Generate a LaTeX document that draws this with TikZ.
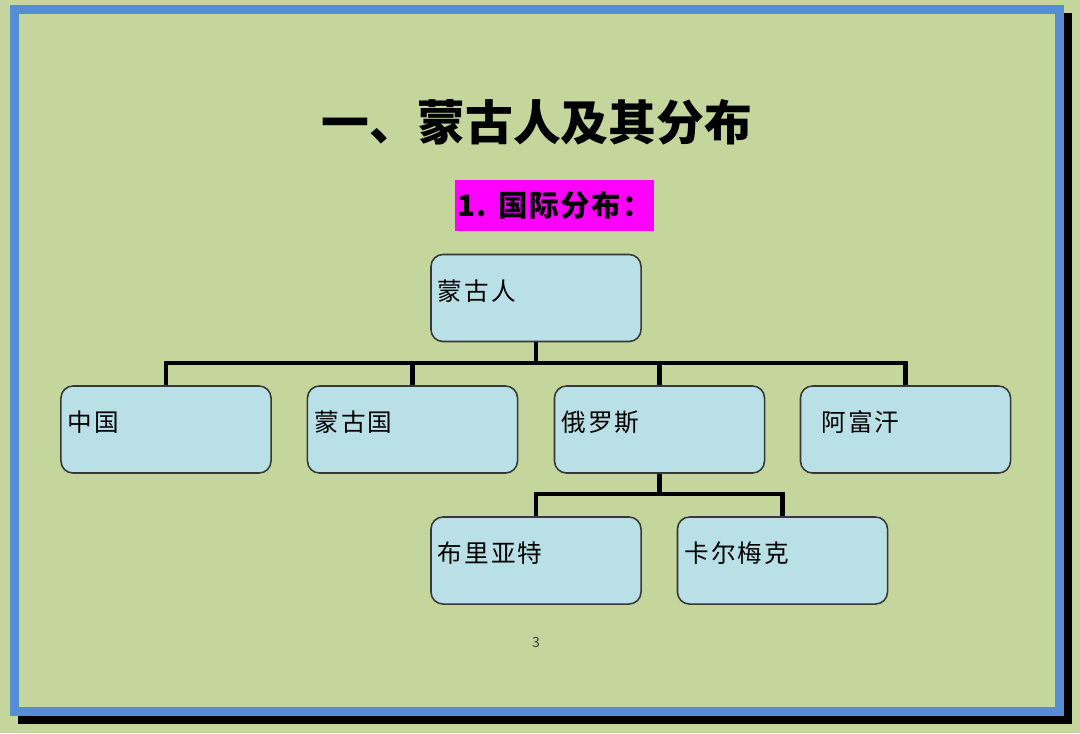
\documentclass[tikz,border=0pt]{standalone}
\usepackage{fontspec}
\setmainfont{Noto Sans CJK SC}
\definecolor{slidebg}{RGB}{196,214,155}
\definecolor{framebl}{RGB}{85,142,213}
\definecolor{boxfill}{RGB}{185,224,230}
\definecolor{boxline}{RGB}{55,55,55}
\definecolor{hilite}{RGB}{255,0,255}
\tikzset{slide/.style={x=0.025cm,y=-0.025cm},
  orgbox/.style={draw=boxline,fill=boxfill,line width=1.1pt,rounded corners=0.3cm,
    minimum width=5.25cm,minimum height=2.175cm,text width=4.9cm,inner xsep=0.175cm,
    align=left,text height=0.62cm,text depth=0.5cm,
    font=\fontsize{17.5}{20}\selectfont\addfontfeature{LetterSpace=8}},
  orglink/.style={line width=3pt}}

\begin{document}
\begin{tikzpicture}[slide]
    \useasboundingbox (0,0) rectangle (1080,733);
    \fill[slidebg] (0,0) rectangle (1080,733);
    \draw[black,line width=0.225cm] (22.5,17.5) rectangle (1067.5,719);
    \fill[slidebg] (19,14) rectangle (1055,706.5);
    \draw[framebl,line width=0.225cm] (14.5,9.5) rectangle (1059.5,711);
    \node[font=\fontsize{34}{40}\selectfont\bfseries] (title) at (537,122) {一、蒙古人及其分布};
    \node[fill=hilite,minimum width=4.975cm,minimum height=1.275cm,inner sep=0pt,
      font=\fontsize{21}{24}\selectfont\bfseries\addfontfeature{LetterSpace=5}] (sub) at (554.5,205.5) {1. 国际分布：};
    \node[orgbox] (mgr)  at (536,298)     {蒙古人};
    \node[orgbox] (zg)   at (166,429.5)   {中国};
    \node[orgbox] (mgg)  at (412.5,429.5) {蒙古国};
    \node[orgbox] (els)  at (659.5,429.5) {俄罗斯};
    \node[orgbox] (afh)  at (905.5,429.5) {\hspace{0.35cm}阿富汗};
    \node[orgbox] (blyt) at (536,560.5)   {布里亚特};
    \node[orgbox] (kemk) at (782.5,560.5) {卡尔梅克};
    \coordinate (bus)  at (0,363);
    \coordinate (bus2) at (0,494);
    \foreach \n in {zg,mgg,els,afh}
      \draw[orglink] (mgr.south) -- (mgr.south |- bus) -| (\n.north);
    \foreach \n in {blyt,kemk}
      \draw[orglink] (els.south) -- (els.south |- bus2) -| (\n.north);
    \node[font=\fontsize{10}{12}\selectfont,text=black!75] (pg) at (536,642) {3};
\end{tikzpicture}
\end{document}
